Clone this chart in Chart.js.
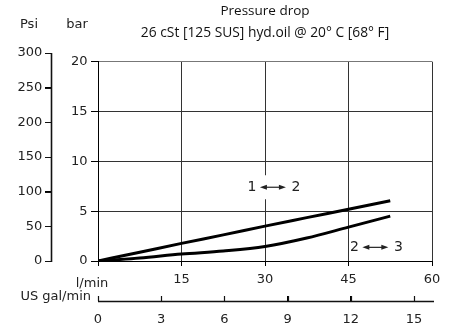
<!DOCTYPE html>
<html>
<head>
<meta charset="utf-8">
<script src="https://cdn.jsdelivr.net/npm/chart.js@4.4.1/dist/chart.umd.min.js"></script>
<style>
body { margin: 0; background: #fff; }
#wrap { width: 451px; height: 333px; }
</style>
</head>
<body>
<div id="wrap"><canvas id="chart"></canvas></div>
<script>
// flow in l/min, pressure drop in bar
var flowLpm = [0, 7.5, 15, 22.5, 30, 37.5, 45, 52.5];
var drop12 = [0, 0.88, 1.77, 2.62, 3.5, 4.35, 5.2, 6.05];
var drop23 = [0, 0.3, 0.7, 1.0, 1.45, 2.3, 3.4, 4.5];

var lpmTicks = [0, 15, 30, 45, 60];
var galTicks = [0, 3, 6, 9, 12, 15];
var barTicks = [0, 5, 10, 15, 20];
var psiTicks = [0, 50, 100, 150, 200, 250, 300];

// path labels, placed in data units (l/min, bar)
var pathLabels = [
	{ from: '1', to: '2', x: 31.6, y: 7.4 },
	{ from: '2', to: '3', x: 50, y: 1.37 }
];

var tickFont = { family: 'DejaVu Sans', size: 13 };
var ink = '#222';

function points(ys) {
	return flowLpm.map(function (x, i) { return { x: x, y: ys[i] }; });
}

function useTicks(list) {
	return function (scale) {
		scale.ticks = list.map(function (v) { return { value: v }; });
	};
}

function arrow(ctx, x1, x2, y) {
	ctx.beginPath();
	ctx.moveTo(x1 + 3, y);
	ctx.lineTo(x2 - 3, y);
	ctx.stroke();
	ctx.beginPath();
	ctx.moveTo(x1, y); ctx.lineTo(x1 + 7, y - 2.5); ctx.lineTo(x1 + 7, y + 2.5); ctx.closePath();
	ctx.moveTo(x2, y); ctx.lineTo(x2 - 7, y - 2.5); ctx.lineTo(x2 - 7, y + 2.5); ctx.closePath();
	ctx.fill();
}

// rule + tick marks for the two outer (unit conversion) axes
function axisRule(ctx, scale, len) {
	var vertical = !scale.isHorizontal();
	var p0 = scale.getPixelForValue(scale.min);
	var p1 = scale.getPixelForValue(scale.max);
	var edge = Math.round(vertical ? scale.right : scale.top);

	ctx.lineWidth = 1.2;
	ctx.beginPath();
	scale.ticks.forEach(function (t) {
		var p = Math.round(scale.getPixelForValue(t.value)) + 0.5;
		if (vertical) {
			ctx.moveTo(edge - len, p);
			ctx.lineTo(edge, p);
		} else {
			ctx.moveTo(p, edge - len);
			ctx.lineTo(p, edge);
		}
	});
	ctx.stroke();

	ctx.lineWidth = 1.6;
	ctx.beginPath();
	if (vertical) {
		ctx.moveTo(edge + 0.5, p1);
		ctx.lineTo(edge + 0.5, p0 + 1);
	} else {
		ctx.moveTo(p0, edge + 0.5);
		ctx.lineTo(p1 + 2, edge + 0.5);
	}
	ctx.stroke();
}

var sideGrid = {
	display: true,
	drawOnChartArea: false,
	drawTicks: true,
	color: '#000',
	lineWidth: 1,
	tickColor: '#000',
	tickWidth: 1
};

var extras = {
	id: 'extras',
	afterLayout: function (chart) {
		// psi axis runs a bit higher than the bar axis (300 psi > 20 bar)
		var psi = chart.scales.psi;
		psi.top = psi.bottom - 208;
		psi.configure();
	},
	beforeDatasetsDraw: function (chart) {
		var ctx = chart.ctx;
		var xs = chart.scales.x, ys = chart.scales.y;
		ctx.save();
		ctx.fillStyle = '#fff';
		pathLabels.forEach(function (l) {
			var cx = xs.getPixelForValue(l.x), cy = ys.getPixelForValue(l.y);
			ctx.fillRect(cx - 27, cy - 12, 54, 24);
		});
		ctx.restore();
	},
	afterDatasetsDraw: function (chart) {
		var ctx = chart.ctx;
		var xs = chart.scales.x, ys = chart.scales.y;
		ctx.save();
		ctx.fillStyle = ink;
		ctx.strokeStyle = ink;
		ctx.lineWidth = 1.2;
		ctx.font = '14px "DejaVu Sans"';
		ctx.textAlign = 'center';
		ctx.textBaseline = 'middle';
		pathLabels.forEach(function (l) {
			var cx = xs.getPixelForValue(l.x), cy = ys.getPixelForValue(l.y);
			ctx.fillText(l.from, cx - 22, cy);
			ctx.fillText(l.to, cx + 22, cy);
			arrow(ctx, cx - 14, cx + 12, cy);
		});
		ctx.restore();
	},
	afterDraw: function (chart) {
		var ctx = chart.ctx;
		var a = chart.chartArea;
		var psi = chart.scales.psi;
		var gal = chart.scales.x2;
		ctx.save();
		ctx.strokeStyle = '#111';
		axisRule(ctx, psi, 6);
		axisRule(ctx, gal, 5);
		ctx.fillStyle = ink;
		ctx.font = '13px "DejaVu Sans"';
		ctx.textBaseline = 'middle';
		ctx.textAlign = 'center';
		ctx.fillText('Psi', psi.right - 22, a.top - 37);
		ctx.fillText('bar', a.left - 21, a.top - 37);
		ctx.fillText('l/min', a.left - 6, a.bottom + 23);
		ctx.textAlign = 'right';
		ctx.fillText('US gal/min', a.left - 7, gal.top - 4);
		ctx.restore();
	}
};

new Chart(document.getElementById('chart'), {
	type: 'line',
	data: {
		datasets: [{
			label: '1-2',
			data: points(drop12),
			borderColor: '#000',
			borderWidth: 3,
			pointRadius: 0,
			cubicInterpolationMode: 'monotone',
			fill: false
		}, {
			label: '2-3',
			data: points(drop23),
			borderColor: '#000',
			borderWidth: 3,
			pointRadius: 0,
			cubicInterpolationMode: 'monotone',
			fill: false
		}]
	},
	options: {
		responsive: true,
		maintainAspectRatio: false,
		animation: false,
		layout: { padding: { left: 0, right: 19, top: 0, bottom: 0 } },
		plugins: {
			legend: { display: false },
			tooltip: { enabled: false },
			title: {
				display: true,
				text: 'Pressure drop',
				fullSize: false,
				color: '#111',
				font: { family: 'Open Sans', size: 13.5, weight: 'normal' },
				padding: { top: 3, bottom: 6 }
			},
			subtitle: {
				display: true,
				text: '26 cSt [125 SUS] hyd.oil @ 20\u00b0 C [68\u00b0 F]',
				fullSize: false,
				color: '#111',
				font: { family: 'Open Sans', size: 13.8 },
				padding: { top: 0, bottom: 19.9 }
			}
		},
		scales: {
			x: {
				type: 'linear',
				position: 'bottom',
				weight: 0,
				min: 0,
				max: 60,
				afterBuildTicks: useTicks(lpmTicks),
				afterFit: function (s) { s.height = 40; },
				grid: { color: '#333', tickColor: '#000', tickLength: 5 },
				border: { display: true, color: '#000' },
				ticks: {
					font: tickFont, color: ink, padding: 5.5, maxRotation: 0,
					callback: function (v) { return v === 0 ? '' : v; }
				}
			},
			x2: {
				type: 'linear',
				position: 'bottom',
				weight: 1,
				min: 0,
				max: 60 / 3.785,
				afterBuildTicks: useTicks(galTicks),
				afterFit: function (s) { s.height = 32; },
				grid: Object.assign({ tickLength: -5 }, sideGrid),
				border: { display: true, color: '#000', width: 1 },
				ticks: { font: tickFont, color: ink, padding: 16.2, maxRotation: 0 }
			},
			y: {
				type: 'linear',
				position: 'left',
				weight: 0,
				min: 0,
				max: 20,
				afterBuildTicks: useTicks(barTicks),
				afterFit: function (s) { s.width = 47; },
				grid: {
					color: function (c) { return c.tick && c.tick.value === 20 ? '#777' : '#333'; },
					tickColor: '#000',
					tickLength: 7
				},
				border: { display: true, color: '#000' },
				ticks: { font: tickFont, color: ink, padding: 3.5 }
			},
			psi: {
				type: 'linear',
				position: 'left',
				weight: 1,
				min: 0,
				max: 300,
				afterBuildTicks: useTicks(psiTicks),
				afterFit: function (s) { s.width = 51; },
				grid: Object.assign({ tickLength: 6 }, sideGrid),
				border: { display: true, color: '#000', width: 1 },
				ticks: { font: tickFont, color: ink, padding: 2.7 }
			}
		}
	},
	plugins: [extras]
});
</script>
</body>
</html>
